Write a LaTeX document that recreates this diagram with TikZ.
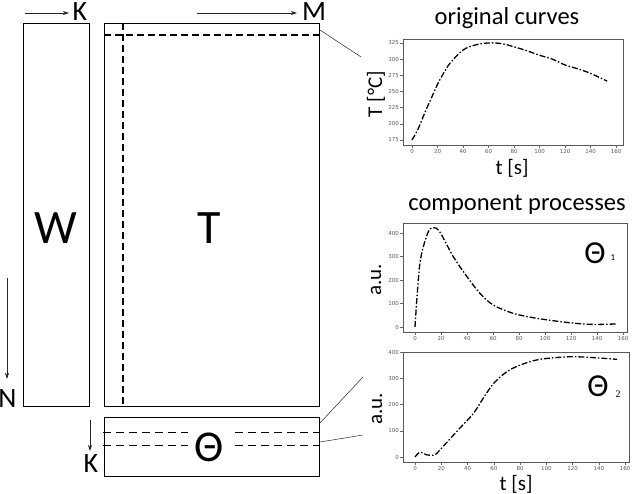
\documentclass[tikz,border=0pt]{standalone}
\usepackage{fontspec}
\setmainfont{Carlito}
\newfontfamily\tickfont{DejaVu Sans}
\newfontfamily\serifsub{Liberation Serif}
\usetikzlibrary{arrows.meta,calc}
\begin{document}
\begin{tikzpicture}[x=1pt,y=-1pt,
  mat/.style={draw, line width=1pt, inner sep=0pt, anchor=north west},
  frm/.style={draw=black!65, line width=0.6pt, inner sep=0pt, anchor=north west},
  arr/.style={-{Stealth[length=6pt,width=4pt]}, line width=0.7pt, black!85},
  conn/.style={line width=0.5pt, black!85},
  bigdash/.style={line width=1.4pt, dash pattern=on 7pt off 4pt},
  thdash/.style={line width=0.8pt, dash pattern=on 8pt off 5pt},
  curve/.style={line width=1.3pt, dash pattern=on 6pt off 2pt on 1.5pt off 2pt, line cap=butt},
  tick/.style={line width=0.5pt, black!60},
  ticklab/.style={font=\tickfont\fontsize{5.5}{6}\selectfont, text=black!65, inner sep=1pt},
  big/.style={font=\fontsize{48}{50}\selectfont, inner sep=0pt},
  dim/.style={font=\fontsize{28}{30}\selectfont, inner sep=0pt},
  ttl/.style={font=\fontsize{24.5}{26}\selectfont, inner sep=0pt},
  axl/.style={font=\fontsize{21}{22}\selectfont, inner sep=0pt},
  plotth/.style={font=\fontsize{32}{34}\selectfont, inner sep=0pt}
]
\useasboundingbox (0,0) rectangle (632,494);

% ---------- matrices ----------
\node[mat, minimum width=66pt, minimum height=383pt] (Wb) at (23,23) {};
\node[mat, minimum width=215pt, minimum height=383pt] (Tb) at (104,23) {};
\node[mat, minimum width=215pt, minimum height=59pt] (Thb) at (104,417) {};

\node[big] (Wl) at (56,228) {W};
\node[big] (Tl) at (209,228) {T};
\node[font=\fontsize{44}{46}\selectfont, inner sep=0pt] (Thl) at (209,447) {Θ};

% dashed row / column in T
\draw[bigdash] (Tb.north west |- 0,35) -- (Tb.north east |- 0,35);
\draw[bigdash] (123,23) -- (123,407);
% dashed rows in Theta
\draw[thdash] (103,432) -- (188,432);
\draw[thdash] (235,432) -- (319,432);
\draw[thdash] (103,445) -- (188,445);
\draw[thdash] (235,445) -- (319,445);

% ---------- dimension arrows ----------
\node[dim] (Ktop) at (80,12) {K};
\node[dim] (Mtop) at (314,12) {M};
\node[dim] (Nl) at (7.5,399) {N};
\node[dim] (Kbot) at (91,464) {K};
\coordinate (kA) at (25,13);  \coordinate (kB) at (69,13);
\coordinate (mA) at (197,13); \coordinate (mB) at (297,13);
\coordinate (nA) at (7,278);  \coordinate (nB) at (7,379);
\coordinate (bA) at (90,420); \coordinate (bB) at (90,451);
\draw[arr] (kA) -- (kB);
\draw[arr] (mA) -- (mB);
\draw[arr] (nA) -- (nB);
\draw[arr] (bA) -- (bB);

% ---------- plot frames ----------
\node[frm, minimum width=220pt, minimum height=106pt] (P1) at (403,39) {};
\node[frm, minimum width=224pt, minimum height=109pt] (P2) at (403,223) {};
\node[frm, minimum width=226pt, minimum height=110pt] (P3) at (403,352) {};

% ---------- connectors ----------
\coordinate (c1) at (361,57);
\coordinate (c2) at (363,377);
\coordinate (c3) at (363,435);
\draw[conn] ($(Tb.north east)+(0,7)$) -- (c1);
\draw[conn] ($(Thb.north east)+(0,6)$) -- (c2);
\draw[conn] ($(Thb.north east)+(0,25)$) -- (c3);

% ---------- titles and axis labels ----------
\node[ttl] (t1) at (507,18) {original curves};
\node[ttl] (t2) at (517,205) {component processes};
\node[axl, rotate=90] (yl1) at (376,94) {T [°C]};
\node[axl] (xl1) at (512,168) {t [s]};
\node[axl, rotate=90] (yl2) at (376,280) {a.u.};
\node[axl, rotate=90] (yl3) at (377,409) {a.u.};
\node[axl] (xl3) at (516,484) {t [s]};
\node[plotth] (th1) at (595,253) {Θ};
\node[font=\fontsize{9}{10}\selectfont, inner sep=0pt] (th1s) at (613,258) {1};
\node[plotth] (th2) at (598,386) {Θ};
\node[font=\serifsub\fontsize{10}{11}\selectfont, inner sep=0pt] (th2s) at (618,394) {2};

% ---------- plot 1 ticks ----------
\foreach \t in {0,20,...,160}
  \draw[tick] ({412+1.275*\t},145) -- ++(0,3) node[ticklab, below] {\t};
\foreach \v in {175,200,...,325}
  \draw[tick] (403,{140-0.647*(\v-175)}) -- ++(-3,0) node[ticklab, left] {\v};
% ---------- plot 2 ticks ----------
\foreach \t in {0,20,...,160}
  \draw[tick] ({415+1.3*\t},332) -- ++(0,3) node[ticklab, below] {\t};
\foreach \v in {0,100,...,400}
  \draw[tick] (403,{327-0.235*\v}) -- ++(-3,0) node[ticklab, left] {\v};
% ---------- plot 3 ticks ----------
\foreach \t in {0,20,...,160}
  \draw[tick] ({415+1.3125*\t},462) -- ++(0,3) node[ticklab, below] {\t};
\foreach \v in {0,100,...,400}
  \draw[tick] (403,{457-0.2625*\v}) -- ++(-3,0) node[ticklab, left] {\v};

% ---------- curves ----------
\begin{scope}[shift={(412,140)}, x=1.275pt, y=0.647pt]
  \draw[curve] plot[smooth, tension=0.6] coordinates {(0,0) (5,18) (10,42) (15,64) (20,86) (25,104) (30,119) (40,139) (50,147) (60,150) (70,149) (80,144) (90,138) (100,131) (110,125) (120,116) (130,110) (140,103) (153,91)};
\end{scope}
\begin{scope}[shift={(415,327)}, x=1.3pt, y=0.235pt]
  \draw[curve] plot[smooth, tension=0.5] coordinates {(0,0) (3.8,272) (9.8,400) (14,423) (19,405) (29.5,299) (40,214) (50,143) (60,94) (75.6,58) (93.6,37) (119,18) (137,11) (155,13)};
\end{scope}
\begin{scope}[shift={(415,457)}, x=1.3125pt, y=0.2625pt]
  \draw[curve] plot[smooth, tension=0.5] coordinates {(0,0) (3.8,18) (9,8) (15,8) (19,27) (34,109) (44.5,166) (52,224) (60,281) (70,325) (80,350) (95,372) (121,382) (154,372)};
\end{scope}
\end{tikzpicture}
\end{document}
